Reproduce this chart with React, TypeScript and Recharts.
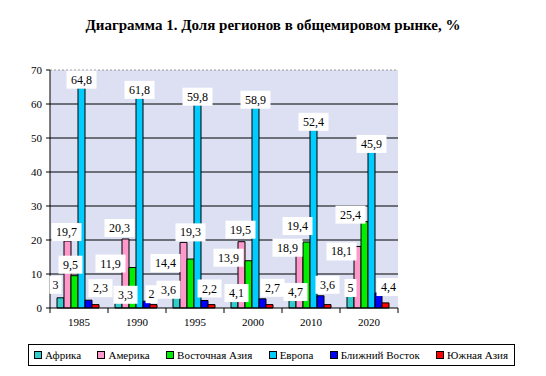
import React from "react";
import { BarChart, Bar, XAxis, YAxis, CartesianGrid, ReferenceLine, LabelList } from "recharts";

const years = ["1985", "1990", "1995", "2000", "2010", "2020"];
const africa = [3, 3.3, 3.6, 4.1, 4.7, 5];
const america = [19.7, 20.3, 19.3, 19.5, 18.9, 18.1];
const eastAsia = [9.5, 11.9, 14.4, 13.9, 19.4, 25.4];
const europe = [64.8, 61.8, 59.8, 58.9, 52.4, 45.9];
const middleEast = [2.3, 2, 2.2, 2.7, 3.6, 4.4];
const southAsia = [1, 1, 1, 1, 1, 1.5];
const yTicks = [0, 10, 20, 30, 40, 50, 60, 70];

// label placement offsets (dx, dy from bar top centre), as in the original
const africaLabelPos = [[-5, -13], [7, -2], [-8, -6], [2, -1], [3, 0], [0, -3]];
const americaLabelPos = [[-1, -9], [-6, -11], [7, -10], [-1, -12], [-12, 4], [-16, 5]];
const eastAsiaLabelPos = [[-4, -11], [-22, -4], [-25, 4], [-20, -3], [-9, -16], [-14, -7]];
const europeLabelPos = [[0, -8], [0, -8], [0, -8], [0, -8], [0, -8], [0, -8]];
const middleEastLabelPos = [[12, -12], [5, -7], [5, -12], [10, -11], [7, -11], [10, -6]];

const series = [
  { key: "africa", name: "Африка", color: "#33CCCC", pos: africaLabelPos },
  { key: "america", name: "Америка", color: "#FF99CC", pos: americaLabelPos },
  { key: "eastAsia", name: "Восточная Азия", color: "#00EE00", pos: eastAsiaLabelPos },
  { key: "europe", name: "Европа", color: "#00CCFF", pos: europeLabelPos },
  { key: "middleEast", name: "Ближний Восток", color: "#0000FF", pos: middleEastLabelPos },
  { key: "southAsia", name: "Южная Азия", color: "#FF0000", pos: null as number[][] | null },
];

const data = years.map((y, i) => ({
  year: y,
  africa: africa[i],
  america: america[i],
  eastAsia: eastAsia[i],
  europe: europe[i],
  middleEast: middleEast[i],
  southAsia: southAsia[i],
}));

const FONT = "Liberation Serif, Times New Roman, serif";

const makeLabel = (pos: number[][]) => (props: any) => {
  const { x, y, width, value, index } = props;
  const [dx, dy] = pos[index] || [0, -8];
  const txt = String(value).replace(".", ",");
  const w = txt.length * 6 + 6;
  const cx = x + width / 2 + dx;
  const cy = y + dy;
  return (
    <g>
      <rect x={cx - w / 2} y={cy - 9} width={w} height={18} fill="#fff" />
      <text x={cx} y={cy + 4} textAnchor="middle" fontSize={12} style={{ fontFamily: FONT }} fill="#000">
        {txt}
      </text>
    </g>
  );
};

const XTick = (props: any) => {
  const { x, y, payload, index } = props;
  const band = 58;
  return (
    <g>
      <line x1={x - band / 2} y1={y - 8} x2={x - band / 2} y2={y - 3} stroke="#000" />
      {index === years.length - 1 && (
        <line x1={x + band / 2} y1={y - 8} x2={x + band / 2} y2={y - 3} stroke="#000" />
      )}
      <text x={x} y={y + 10} textAnchor="middle" fontSize={11} style={{ fontFamily: FONT }} fill="#000">
        {payload.value}
      </text>
    </g>
  );
};

const YTick = (props: any) => {
  const { x, y, payload } = props;
  return (
    <text x={x - 2} y={y + 4} textAnchor="end" fontSize={11} style={{ fontFamily: FONT }} fill="#000">
      {payload.value}
    </text>
  );
};

const App = () => {
  return (
    <div
      style={{
        position: "absolute",
        left: 0,
        top: 0,
        width: 546,
        height: 376,
        background: "#fff",
        fontFamily: FONT,
      }}
    >
      <div
        style={{
          position: "absolute",
          left: 0,
          top: 17,
          width: 546,
          textAlign: "center",
          fontWeight: "bold",
          fontSize: 15,
        }}
      >
        Диаграмма 1. Доля регионов в общемировом рынке, %
      </div>
      <BarChart
        width={546}
        height={376}
        data={data}
        margin={{ top: 70, right: 148, bottom: 38, left: 10 }}
        barGap={0}
        barCategoryGap={7}
      >
        <CartesianGrid
          vertical={false}
          horizontalValues={[10, 20, 30, 40, 50, 60]}
          stroke="#000"
          fill="#DCE0F2"
          fillOpacity={1}
        />
        <ReferenceLine y={70} stroke="#999" strokeDasharray="2 2" />
        <XAxis
          dataKey="year"
          tick={<XTick />}
          tickLine={false}
          axisLine={{ stroke: "#000" }}
          height={30}
          interval={0}
        />
        <YAxis
          domain={[0, 70]}
          ticks={yTicks}
          width={40}
          axisLine={{ stroke: "#000" }}
          tickLine={{ stroke: "#000" }}
          tickSize={4}
          tick={<YTick />}
          interval={0}
        />
        {series.map((s) => (
          <Bar
            key={s.key}
            dataKey={s.key}
            name={s.name}
            fill={s.color}
            stroke="#000"
            strokeWidth={1}
            isAnimationActive={false}
          >
            {s.pos && <LabelList dataKey={s.key} content={makeLabel(s.pos)} />}
          </Bar>
        ))}
      </BarChart>
      <div
        style={{
          position: "absolute",
          left: 28,
          top: 344,
          width: 487,
          height: 22,
          border: "1px solid #000",
          display: "flex",
          alignItems: "center",
          justifyContent: "space-between",
          padding: "0 6px 0 5px",
          boxSizing: "border-box",
          fontSize: 11,
        }}
      >
        {series.map((s) => (
          <span key={s.key} style={{ display: "flex", alignItems: "center" }}>
            <span
              style={{
                display: "inline-block",
                width: 6,
                height: 6,
                background: s.color,
                border: "1px solid #000",
                marginRight: 3,
              }}
            />
            {s.name}
          </span>
        ))}
      </div>
    </div>
  );
};

export default App;
